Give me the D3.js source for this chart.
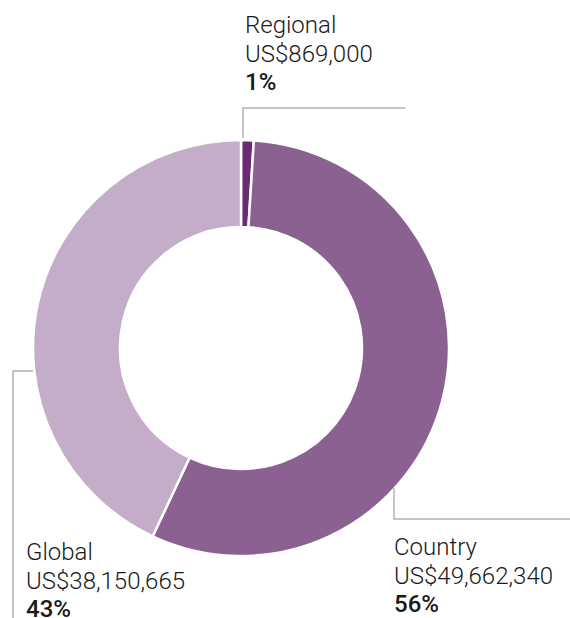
<!DOCTYPE html>
<html>
<head>
<meta charset="utf-8">
<script src="https://cdn.jsdelivr.net/npm/d3@7"></script>
<style>
  body { margin: 0; background: #fff; }
  svg text { font-family: Roboto, "Liberation Sans", sans-serif; fill: #1a1a1a; }
</style>
</head>
<body>
<svg id="chart" width="570" height="618"></svg>
<script>
const categories = ["Regional", "Country", "Global"];
const amounts = [869000, 49662340, 38150665];
const amountLabels = ["US$869,000", "US$49,662,340", "US$38,150,665"];
const percentLabels = ["1%", "56%", "43%"];
const colors = ["#6b2a74", "#8a6191", "#c3adc8"];

const svg = d3.select("#chart");
const cx = 241, cy = 348;
const outer = 208, inner = 121;

const data = categories.map((c, i) => ({ name: c, value: amounts[i], amount: amountLabels[i], pct: percentLabels[i], color: colors[i] }));

const pie = d3.pie().sort(null).value(d => d.value);
const arc = d3.arc().innerRadius(inner).outerRadius(outer);
const arcs = pie(data);

const g = svg.append("g").attr("transform", `translate(${cx},${cy})`);
g.selectAll("path")
    .data(arcs)
    .enter().append("path")
    .attr("d", arc)
    .attr("fill", d => d.data.color)
    .attr("stroke", "#fff")
    .attr("stroke-width", 2.5);

// leader lines
const lineColor = "#b3b3b3";
const leaders = [
    [[243, 138], [243, 108], [405, 108]],
    [[33, 371], [13, 371], [13, 618]],
    [[394, 488], [394, 519], [570, 519]]
];
svg.selectAll("polyline.leader")
    .data(leaders)
    .enter().append("polyline")
    .attr("class", "leader")
    .attr("points", d => d.map(p => p.join(",")).join(" "))
    .attr("fill", "none")
    .attr("stroke", lineColor)
    .attr("stroke-width", 1.5);

// labels
const labelPos = [[245, 33], [394, 555], [26, 560]];
const lineGap = 28.5;
arcs.forEach((a, i) => {
    const [x, y] = labelPos[i];
    const t = svg.append("text").attr("x", x).attr("y", y).attr("font-size", 24);
    t.append("tspan").attr("x", x).attr("font-weight", 300).text(a.data.name);
    t.append("tspan").attr("x", x).attr("dy", lineGap).attr("font-weight", 300).text(a.data.amount);
    t.append("tspan").attr("x", x).attr("dy", lineGap).attr("font-weight", 500).text(a.data.pct);
});
</script>
</body>
</html>
